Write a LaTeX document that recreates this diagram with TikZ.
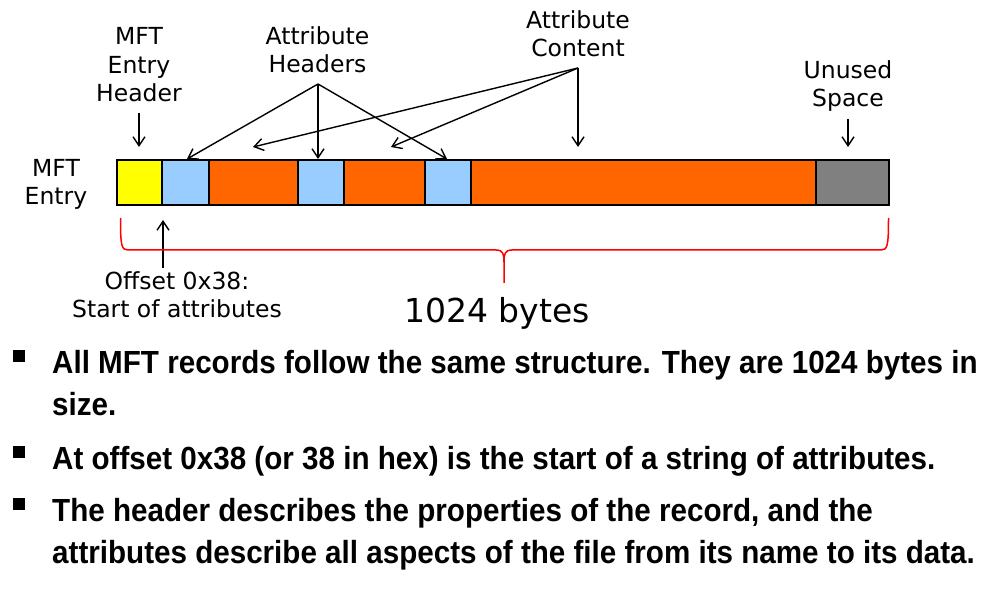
\documentclass[tikz,border=0pt]{standalone}
\usepackage{fontspec}
\setmainfont{DejaVu Sans}
\newfontfamily\bodyfont[FakeStretch=0.925]{Liberation Sans Bold}
\usetikzlibrary{arrows.meta}
\definecolor{segyellow}{HTML}{FFFF00}
\definecolor{segblue}{HTML}{99CCFF}
\definecolor{segorange}{HTML}{FF6600}
\definecolor{seggray}{HTML}{808080}
\definecolor{bracered}{HTML}{FF0000}
\begin{document}
\begin{tikzpicture}[x=1pt,y=-1pt,
  seg/.style={draw=black, line width=1.6pt, minimum height=45pt, inner sep=0pt, outer sep=0pt, anchor=west},
  lbl/.style={font=\fontsize{23.5}{28.5}\selectfont, align=center, inner sep=0pt, anchor=base},
  arr/.style={-{Straight Barb[length=9pt,width=12pt]}, line width=1.4pt, black},
  brace/.style={draw=bracered, line width=1.5pt},
  bul/.style={fill=black, minimum size=12pt, inner sep=0pt},
  body/.style={font=\bodyfont\fontsize{32}{42}\selectfont, align=left, inner sep=0pt, anchor=base west}]
\useasboundingbox (0,0) rectangle (1005,596);
% segments
\node[seg, fill=segyellow, minimum width=45pt] (s1) at (117,182.5) {};
\node[seg, fill=segblue,   minimum width=47pt] (s2) at (162,182.5) {};
\node[seg, fill=segorange, minimum width=89pt] (s3) at (209,182.5) {};
\node[seg, fill=segblue,   minimum width=46pt] (s4) at (298,182.5) {};
\node[seg, fill=segorange, minimum width=81pt] (s5) at (344,182.5) {};
\node[seg, fill=segblue,   minimum width=46pt] (s6) at (425,182.5) {};
\node[seg, fill=segorange, minimum width=345pt] (s7) at (471,182.5) {};
\node[seg, fill=seggray,   minimum width=73pt] (s8) at (816,182.5) {};
% labels (anchor=base is the baseline of the last line)
\node[lbl] (hdr) at (139,102) {MFT\\Entry\\Header};
\node[lbl] (ah) at (317.5,73) {Attribute\\Headers};
\node[lbl] (ac) at (578,57) {Attribute\\Content};
\node[lbl] (us) at (848,107) {Unused\\Space};
\node[lbl] (me) at (56,205) {MFT\\Entry};
\node[lbl] (off) at (177,318) {Offset 0x38:\\Start of attributes};
\node[font=\fontsize{33}{40}\selectfont, inner sep=0pt, anchor=base] (kb) at (497,323) {1024 bytes};
% arrow points
\coordinate (hdrA) at (139,113);
\coordinate (hdrB) at (139,147);
\coordinate (ahA) at (318,84);
\coordinate (ah1) at (187,159);
\coordinate (ah2) at (318,159);
\coordinate (ah3) at (447,159);
\coordinate (acA) at (578,68);
\coordinate (ac1) at (253,147);
\coordinate (ac2) at (391,147);
\coordinate (ac3) at (578,147);
\coordinate (usA) at (848,119);
\coordinate (usB) at (848,147);
\coordinate (offA) at (163,268);
\coordinate (offB) at (163,220);
\draw[arr] (hdrA) -- (hdrB);
\draw[arr] (ahA) -- (ah1);
\draw[arr] (ahA) -- (ah2);
\draw[arr] (ahA) -- (ah3);
\draw[arr] (acA) -- (ac1);
\draw[arr] (acA) -- (ac2);
\draw[arr] (acA) -- (ac3);
\draw[arr] (usA) -- (usB);
\draw[arr] (offA) -- (offB);
% brace
\coordinate (brL) at (120.5,218);
\coordinate (brR) at (888.5,218);
\coordinate (brM) at (504,262);
\coordinate (brT) at (504,283);
\draw[brace] (brL) .. controls (120.5,246) and (121.5,250) .. (128,250) -- (496,250)
  .. controls (503,250) and (504,254) .. (brM) -- (brT);
\draw[brace] (brM) .. controls (504,254) and (505,250) .. (512,250) -- (881,250)
  .. controls (887.5,250) and (888.5,246) .. (brR);
% bullets
\node[bul] (b1) at (19,356) {};
\node[bul] (b2) at (19,452) {};
\node[bul] (b3) at (19,504) {};
\node[body] (t1) at (52,415) {All MFT records follow the same structure. They are 1024 bytes in\\size.};
\node[body] (t2) at (52,469) {At offset 0x38 (or 38 in hex) is the start of a string of attributes.};
\node[body] (t3) at (52,563) {The header describes the properties of the record, and the\\attributes describe all aspects of the file from its name to its data.};
\end{tikzpicture}
\end{document}
